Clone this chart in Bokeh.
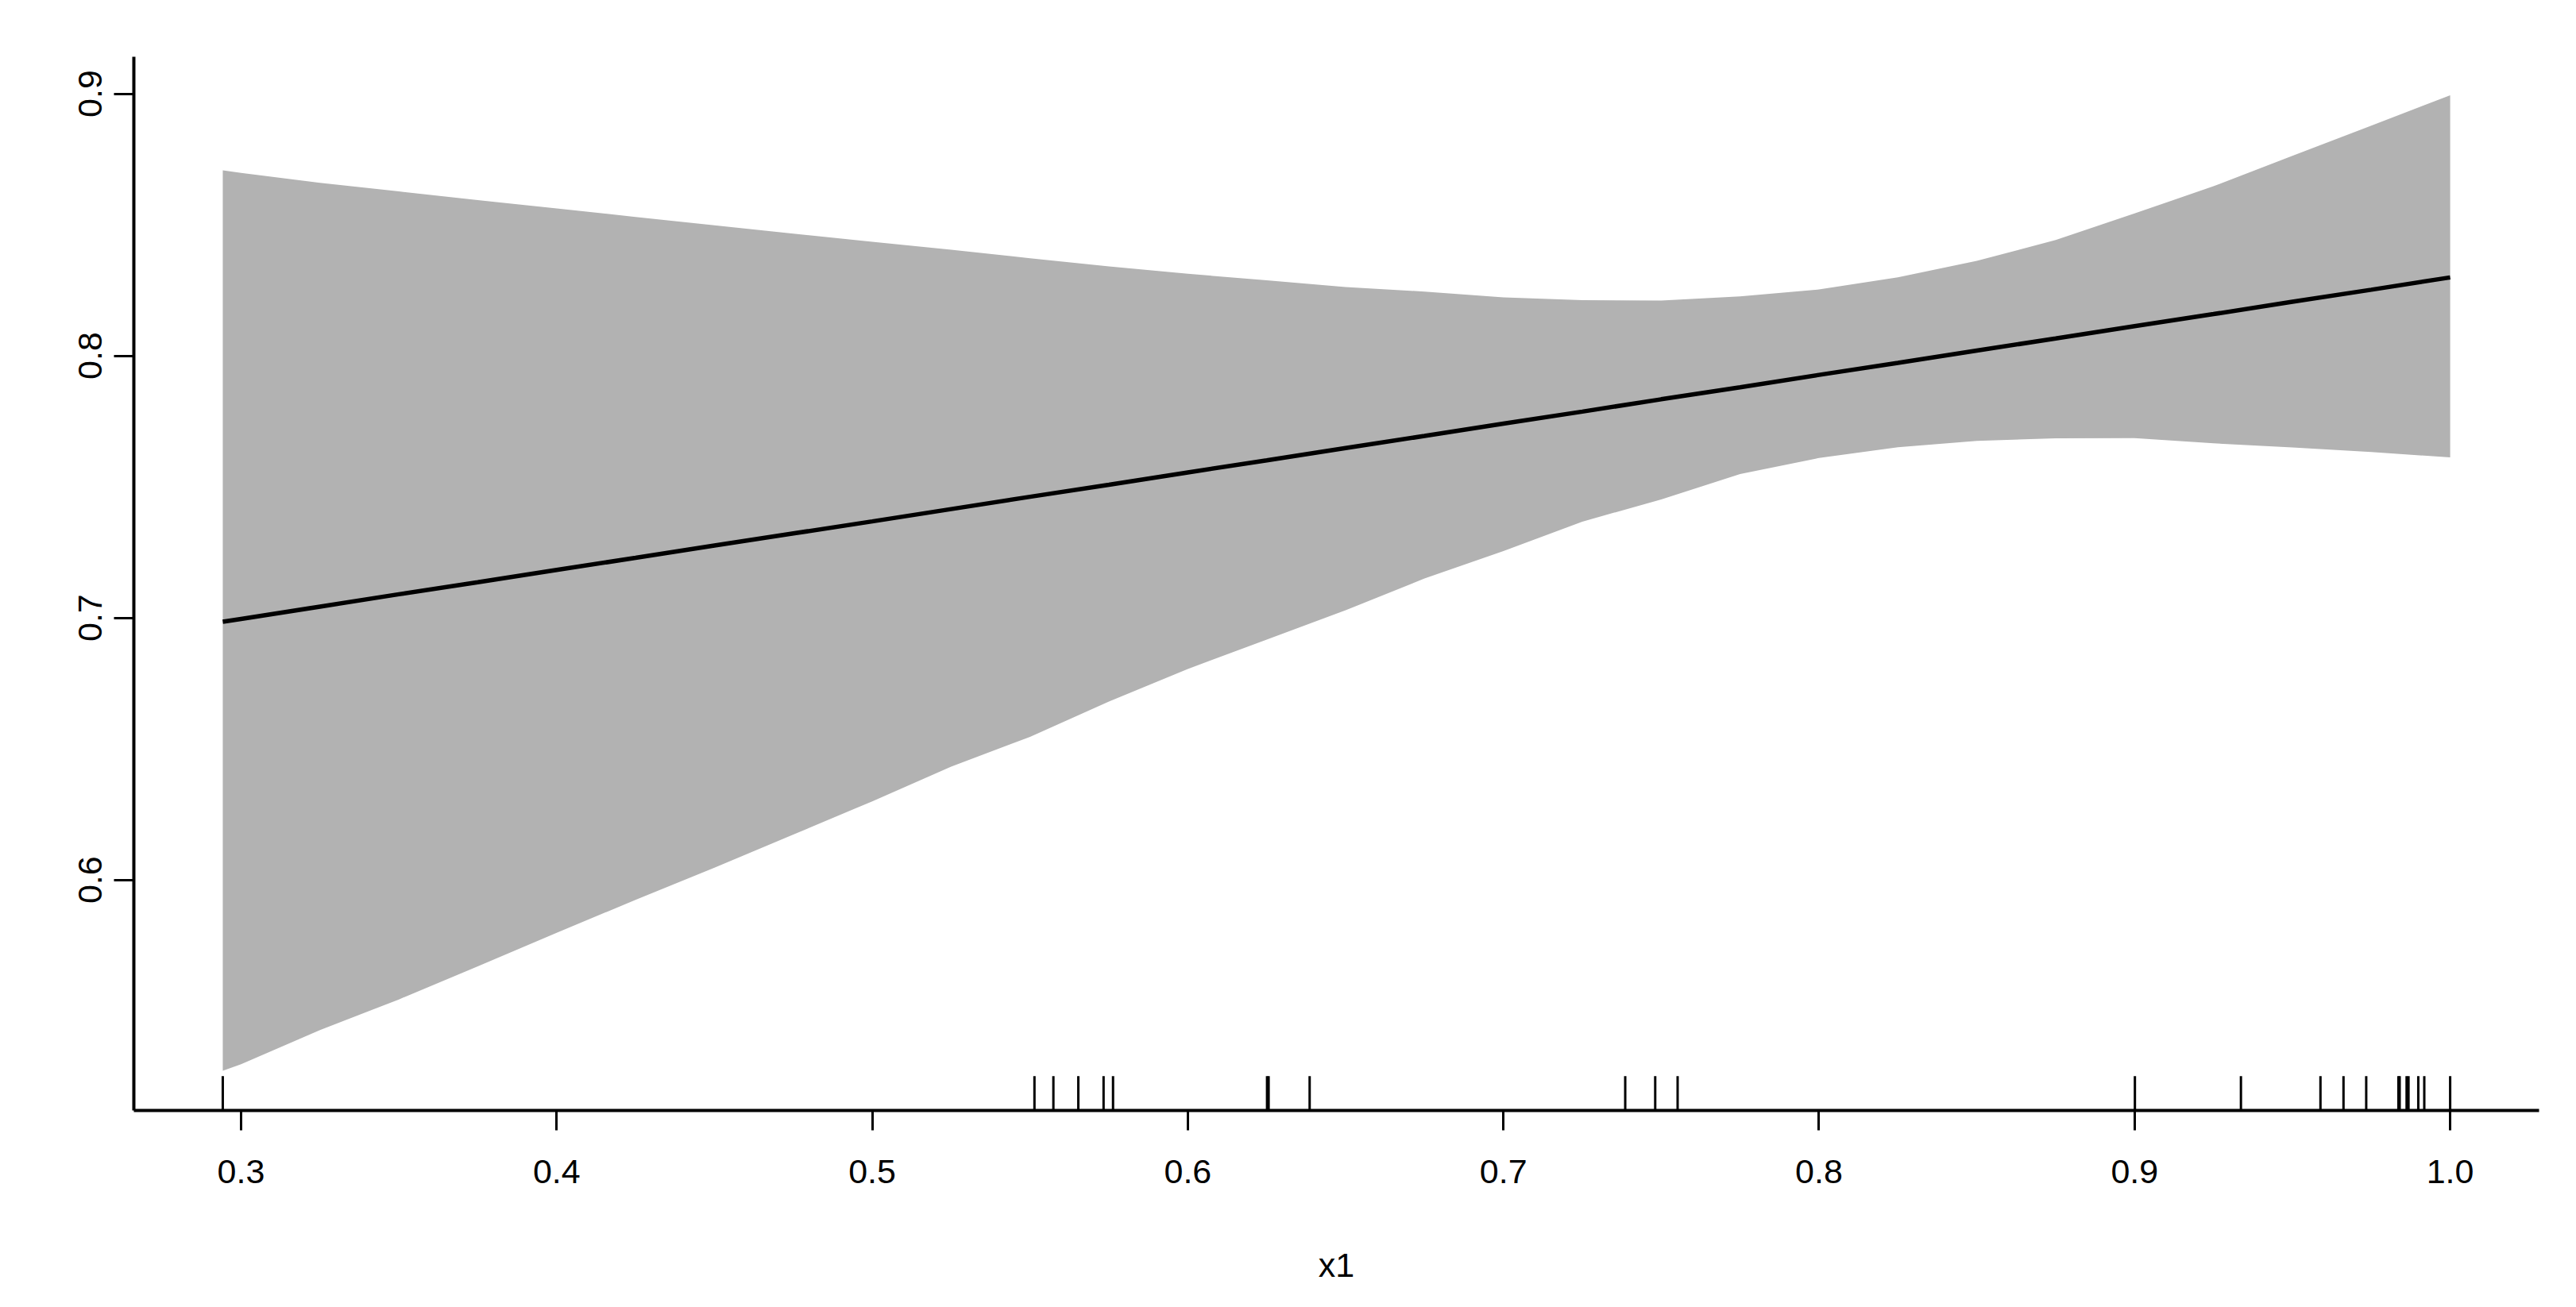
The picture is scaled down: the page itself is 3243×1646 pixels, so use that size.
from bokeh.plotting import figure
from bokeh.models import Range1d, FixedTicker, PrintfTickFormatter, ColumnDataSource
from bokeh.embed import file_html
from bokeh.resources import INLINE

# ---- data ----
x_grid = [0.2942, 0.30, 0.325, 0.35, 0.375, 0.40, 0.425, 0.45, 0.475, 0.50,
          0.525, 0.55, 0.575, 0.60, 0.625, 0.65, 0.675, 0.70, 0.725, 0.75,
          0.775, 0.80, 0.825, 0.85, 0.875, 0.90, 0.925, 0.95, 0.975, 1.0]
fit = [0.6985, 0.6996, 0.7043, 0.7090, 0.7136, 0.7183, 0.7229, 0.7276, 0.7322, 0.7368,
       0.7415, 0.7462, 0.7508, 0.7555, 0.7601, 0.7648, 0.7694, 0.7741, 0.7787, 0.7834,
       0.7880, 0.7927, 0.7973, 0.8020, 0.8066, 0.8113, 0.8159, 0.8206, 0.8252, 0.8299]
upper = [0.8708, 0.8698, 0.8660, 0.8627, 0.8594, 0.8562, 0.8530, 0.8498, 0.8466, 0.8435,
         0.8405, 0.8372, 0.8341, 0.8313, 0.8288, 0.8262, 0.8245, 0.8223, 0.8212, 0.8211,
         0.8227, 0.8253, 0.8299, 0.8362, 0.8442, 0.8543, 0.8647, 0.8763, 0.8878, 0.8994]
lower = [0.5272, 0.5297, 0.5427, 0.5544, 0.5670, 0.5798, 0.5924, 0.6047, 0.6173, 0.6300,
         0.6432, 0.6546, 0.6681, 0.6805, 0.6917, 0.7029, 0.7150, 0.7255, 0.7367, 0.7452,
         0.7549, 0.7610, 0.7651, 0.7675, 0.7685, 0.7686, 0.7666, 0.7650, 0.7633, 0.7612]
rug_x = [0.2942, 0.5514, 0.5574, 0.5653, 0.5733, 0.5763, 0.6251, 0.6256, 0.6386,
         0.7386, 0.7481, 0.7552, 0.9001, 0.9337, 0.9589, 0.9662, 0.9734,
         0.9836, 0.9840, 0.9862, 0.9868, 0.9899, 0.9918, 1.0]
x_ticks = [0.3, 0.4, 0.5, 0.6, 0.7, 0.8, 0.9, 1.0]
y_ticks = [0.6, 0.7, 0.8, 0.9]
x_label = "x1"

FONT = "Liberation Sans"

x0, x1 = 0.26602, 1.02817
y0, y1 = 0.51203, 0.91409

p = figure(frame_width=3028, frame_height=1327,
           min_border_left=168, min_border_top=71, min_border_right=31, min_border_bottom=232,
           x_range=Range1d(x0, x1), y_range=Range1d(y0, y1),
           output_backend="svg", toolbar_location=None, tools="")

p.background_fill_color = "white"
p.border_fill_color = "white"
p.outline_line_color = None
p.xgrid.visible = False
p.ygrid.visible = False

src = ColumnDataSource(dict(x=x_grid, fit=fit, upper=upper, lower=lower))
p.varea(x="x", y1="lower", y2="upper", source=src, fill_color="#B2B2B2", fill_alpha=1.0)
p.line(x="x", y="fit", source=src, line_color="black", line_width=5.5)

# rug
rug_len = (y1 - y0) * 0.0325
p.segment(x0=rug_x, y0=[y0] * len(rug_x), x1=rug_x, y1=[y0 + rug_len] * len(rug_x),
          line_color="black", line_width=3)

for ax in (p.xaxis[0], p.yaxis[0]):
    ax.axis_line_width = 4
    ax.axis_line_color = "black"
    ax.major_tick_line_width = 3
    ax.major_tick_line_color = "black"
    ax.major_tick_in = 0
    ax.major_tick_out = 25
    ax.minor_tick_line_color = None
    ax.major_label_text_font = FONT
    ax.major_label_text_font_size = "43px"
    ax.major_label_text_color = "black"

p.xaxis.ticker = FixedTicker(ticks=x_ticks)
p.xaxis.formatter = PrintfTickFormatter(format="%.1f")
p.xaxis.major_label_standoff = 37
p.xaxis.axis_label = x_label
p.xaxis.axis_label_text_font = FONT
p.xaxis.axis_label_text_font_size = "43px"
p.xaxis.axis_label_text_font_style = "normal"
p.xaxis.axis_label_text_color = "black"
p.xaxis.axis_label_standoff = 76

p.yaxis.ticker = FixedTicker(ticks=y_ticks)
p.yaxis.formatter = PrintfTickFormatter(format="%.1f")
p.yaxis.major_label_orientation = "vertical"
p.yaxis.major_label_standoff = 15

open("out.html", "w").write(file_html(p, INLINE))
